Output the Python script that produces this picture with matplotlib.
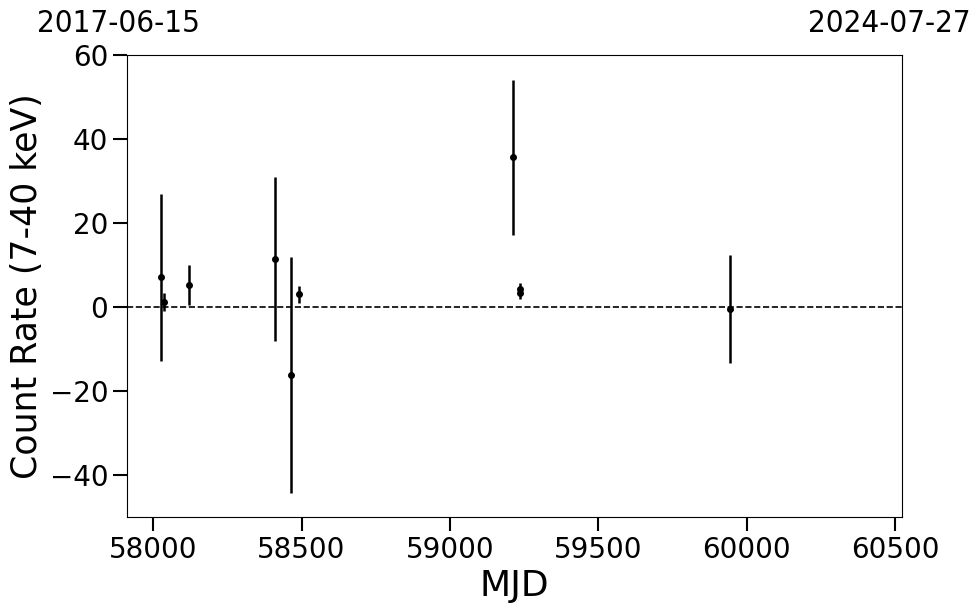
import matplotlib
matplotlib.use("Agg")
import matplotlib.pyplot as plt

# light-curve points (MJD, rate, 1-sigma error)
mjd = [58027, 58037, 58121, 58411, 58465, 58490, 59212, 59236, 59237, 59944]
rate = [7.1, 1.2, 5.2, 11.4, -16.2, 3.0, 35.6, 4.4, 3.4, -0.5]
rate_err = [19.9, 2.1, 4.8, 19.5, 28.0, 2.0, 18.4, 1.3, 1.5, 12.8]

date_start = "2017-06-15"
date_end = "2024-07-27"

fig = plt.figure(figsize=(9.8, 6.13), dpi=100)
ax = fig.add_axes([127 / 980, 1 - 517 / 613, 775 / 980, 462 / 613])

ax.errorbar(mjd, rate, yerr=rate_err, fmt='o', color='black', ms=4,
            elinewidth=1.8, capsize=0)
ax.axhline(0, color='black', ls='--', lw=1.2)

ax.set_xlim(57912, 60523)
ax.set_ylim(-50, 60)
ax.set_xticks([58000, 58500, 59000, 59500, 60000, 60500])
ax.set_yticks([-40, -20, 0, 20, 40, 60])
ax.tick_params(labelsize=20, length=10, width=1.5)
ax.set_xlabel("MJD", fontsize=26)
ax.set_ylabel("Count Rate (7-40 keV)", fontsize=25)

fig.text(118 / 980, 1 - 23 / 613, date_start, fontsize=22.5, ha='center',
         va='center', family='DejaVu Sans', stretch='condensed')
fig.text(889 / 980, 1 - 23 / 613, date_end, fontsize=22.5, ha='center',
         va='center', family='DejaVu Sans', stretch='condensed')

fig.savefig("out.png", dpi=100)
